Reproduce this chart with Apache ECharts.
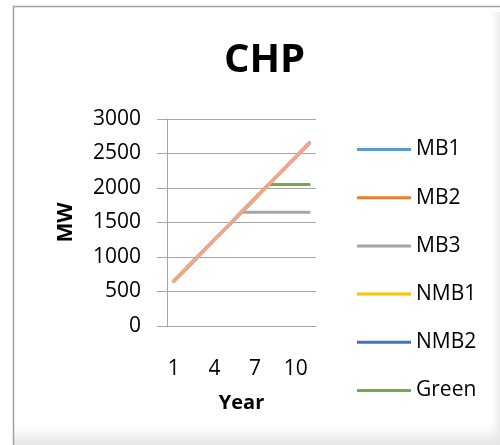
<!DOCTYPE html>
<html>
<head>
<meta charset="utf-8">
<script src="https://cdn.jsdelivr.net/npm/echarts@6/dist/echarts.min.js"></script>
<style>
  html, body { margin: 0; padding: 0; background: #fff; }
  #chart { width: 500px; height: 445px; }
</style>
</head>
<body>
<div id="chart"></div>
<script>
// Installed CHP capacity (MW) per scenario, years 1..11
const years = ['1', '2', '3', '4', '5', '6', '7', '8', '9', '10', '11'];
const mb1  = [650, 850, 1050, 1250, 1450, 1650, 1850, 2050, 2250, 2450, 2650];
const mb2  = [650, 850, 1050, 1250, 1450, 1650, 1850, 2050, 2250, 2450, 2650];
const mb3  = [650, 850, 1050, 1250, 1450, 1650, 1650, 1650, 1650, 1650, 1650];
const nmb1 = [650, 850, 1050, 1250, 1450, 1650, 1850, 2050, 2250, 2450, 2650];
const nmb2 = [650, 850, 1050, 1250, 1450, 1650, 1850, 2050, 2250, 2450, 2650];
const green = [650, 850, 1050, 1250, 1450, 1650, 1850, 2050, 2050, 2050, 2050];
const yTicks = { min: 0, max: 3000, step: 500 };
const legendOrder = ['MB1', 'MB2', 'MB3', 'NMB1', 'NMB2', 'Green'];

const FONT = '"Open Sans", "Noto Sans", sans-serif';
const AXIS_GREY = '#A6A6A6';

const colors = {
  MB1: '#5B9BD5',
  MB2: '#ED7D31',
  MB3: '#A5A5A5',
  NMB1: '#FFC000',
  NMB2: '#4472C4',
  Green: '#70AD47'
};

function lineSeries(name, data, z, strokeColor, width) {
  return {
    name: name,
    type: 'line',
    data: data,
    symbol: 'none',
    z: z,
    itemStyle: { color: colors[name] },
    lineStyle: { width: width || 3, color: strokeColor || colors[name], cap: 'round', join: 'round' },
    emphasis: { disabled: true },
    animation: false
  };
}

const chart = echarts.init(document.getElementById('chart'), null, { renderer: 'canvas' });

chart.setOption({
  backgroundColor: '#ffffff',
  animation: false,
  title: {
    text: 'CHP',
    left: 219,
    top: 36,
    textStyle: { fontFamily: FONT, fontSize: 40, fontWeight: 'bold', color: '#000' }
  },
  grid: { left: 167, right: 184, top: 119, bottom: 119, containLabel: false },
  legend: {
    orient: 'vertical',
    left: 357,
    top: 139,
    padding: 0,
    icon: 'rect',
    itemWidth: 54,
    itemHeight: 3,
    itemGap: 27.2,
    textStyle: { fontFamily: FONT, fontSize: 21, color: '#000' },
    data: legendOrder.map(n => ({
      name: n,
      itemStyle: { color: colors[n] }
    }))
  },
  xAxis: {
    type: 'category',
    data: years,
    boundaryGap: true,
    name: 'Year',
    nameLocation: 'middle',
    nameGap: 67,
    nameTextStyle: { fontFamily: FONT, fontSize: 20, fontWeight: 'bold', color: '#000' },
    axisLine: { show: true, lineStyle: { color: AXIS_GREY, width: 1 } },
    axisTick: { show: false },
    axisLabel: { interval: 2, margin: 33, fontFamily: FONT, fontSize: 21, color: '#000' },
    splitLine: { show: false }
  },
  yAxis: {
    type: 'value',
    min: yTicks.min,
    max: yTicks.max,
    interval: yTicks.step,
    name: 'MW',
    nameLocation: 'middle',
    nameGap: 90,
    nameRotate: 90,
    nameTextStyle: { fontFamily: FONT, fontSize: 21, fontWeight: 'bold', color: '#000' },
    axisLine: { show: true, lineStyle: { color: AXIS_GREY, width: 1 } },
    axisTick: { show: true, length: 10, inside: false, lineStyle: { color: AXIS_GREY } },
    axisLabel: {
      margin: 26,
      fontFamily: FONT,
      fontSize: 21,
      color: '#000',
      formatter: v => String(v)
    },
    splitLine: { show: true, lineStyle: { color: AXIS_GREY, width: 1 } }
  },
  series: [
    lineSeries('MB1', mb1, 2),
    lineSeries('MB3', mb3, 3),
    lineSeries('NMB1', nmb1, 4),
    lineSeries('NMB2', nmb2, 5),
    lineSeries('Green', green, 6),
    lineSeries('MB2', mb2, 7, '#F4A688', 3.5)
  ],
  graphic: [
    {
      type: 'rect',
      silent: true,
      z: -10,
      shape: { x: 490, y: 12, width: 12, height: 440 },
      style: {
        fill: new echarts.graphic.LinearGradient(0, 0, 1, 0, [
          { offset: 0, color: 'rgba(235,235,235,0)' },
          { offset: 1, color: 'rgba(225,225,225,0.8)' }
        ])
      }
    },
    {
      type: 'rect',
      silent: true,
      z: -10,
      shape: { x: 14, y: 424, width: 490, height: 22 },
      style: {
        fill: new echarts.graphic.LinearGradient(0, 0, 0, 1, [
          { offset: 0, color: 'rgba(235,235,235,0)' },
          { offset: 1, color: 'rgba(225,225,225,0.9)' }
        ])
      }
    },
    {
      type: 'rect',
      silent: true,
      z: -5,
      shape: { x: 13.5, y: 6.5, width: 520, height: 470 },
      style: { fill: 'none', stroke: '#A0A0A0', lineWidth: 1.5 }
    }
  ]
});
</script>
</body>
</html>
